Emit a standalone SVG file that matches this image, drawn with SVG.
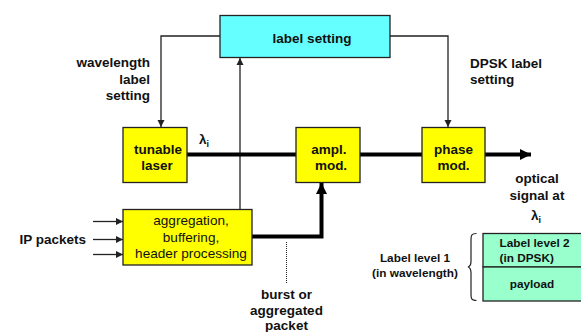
<svg xmlns="http://www.w3.org/2000/svg" width="581" height="332" viewBox="0 0 581 332">
<defs>
<style>
.box{stroke:#222;stroke-width:1.3}
.y{fill:#FFFF00}
.c{fill:#66FFFF}
.g{fill:#99FFCC}
.t{font-family:"Liberation Sans",Arial,sans-serif;font-size:13.5px;font-weight:bold;fill:#111}
.n{font-family:"Liberation Sans",Arial,sans-serif;font-size:13.6px;fill:#111}
.s{font-family:"Liberation Sans",Arial,sans-serif;font-size:11.8px;font-weight:bold;fill:#111}
.thin{fill:none;stroke:#222;stroke-width:1.3}
.thick{fill:none;stroke:#000;stroke-width:4}
</style>
<marker id="ah" markerWidth="8" markerHeight="8" refX="7" refY="4" orient="auto" markerUnits="userSpaceOnUse">
<path d="M0,0.5 L7,4 L0,7.5 Z" fill="#222"/>
</marker>
<marker id="ahb" markerWidth="12" markerHeight="12" refX="11" refY="6" orient="auto" markerUnits="userSpaceOnUse">
<path d="M0,0.5 L11,6 L0,11.5 Z" fill="#000"/>
</marker>
</defs>
<rect width="581" height="332" fill="#fff"/>

<g id="connectors">
<path class="thin" d="M220,36 H161 V127" marker-end="url(#ah)"/>
<path class="thin" d="M390,36 H448 V127" marker-end="url(#ah)"/>
<path class="thin" d="M240,209 V58" marker-end="url(#ah)"/>
<path class="thin" d="M93,221.5 H123" marker-end="url(#ah)"/>
<path class="thin" d="M93,239.5 H123" marker-end="url(#ah)"/>
<path class="thin" d="M93,254.5 H123" marker-end="url(#ah)"/>
<path class="thick" d="M187,154.5 H296"/>
<path class="thick" d="M360,154.5 H422"/>
<path class="thick" d="M485,154.5 H531" marker-end="url(#ahb)"/>
<path class="thick" d="M252,236.5 H321.5 V183" marker-end="url(#ahb)"/>
<path d="M286.5,242 V284" fill="none" stroke="#222" stroke-width="1" stroke-dasharray="1,1"/>
<text class="t" x="199" y="144">λ<tspan font-size="9" dy="3">i</tspan></text>
</g>

<g id="label-setting">
<rect class="box c" x="220" y="15.5" width="170" height="42"/>
<text class="t" x="312" y="42.5" text-anchor="middle">label setting</text>
</g>

<g id="wavelength-label-setting">
<text class="t" text-anchor="end"><tspan x="150" y="67">wavelength</tspan><tspan x="150" y="83.5">label</tspan><tspan x="150" y="100">setting</tspan></text>
</g>

<g id="dpsk-label-setting">
<text class="t"><tspan x="470" y="67.5">DPSK label</tspan><tspan x="470" y="83.5">setting</tspan></text>
</g>

<g id="tunable-laser">
<rect class="box y" x="123" y="127.5" width="64" height="55"/>
<text class="t" text-anchor="middle"><tspan x="158" y="153.5">tunable</tspan><tspan x="157" y="170">laser</tspan></text>
</g>

<g id="ampl-mod">
<rect class="box y" x="296" y="127.5" width="64" height="55"/>
<text class="t" text-anchor="middle"><tspan x="329" y="153.5">ampl.</tspan><tspan x="331" y="170">mod.</tspan></text>
</g>

<g id="phase-mod">
<rect class="box y" x="422" y="127.5" width="63" height="55"/>
<text class="t" text-anchor="middle"><tspan x="453.5" y="153.5">phase</tspan><tspan x="453.5" y="170">mod.</tspan></text>
</g>

<g id="optical-signal">
<text class="t" text-anchor="middle"><tspan x="537" y="183">optical</tspan><tspan x="537" y="200">signal at</tspan></text>
<text class="t" x="531" y="220">λ<tspan font-size="9" dy="3">i</tspan></text>
</g>

<g id="aggregation">
<rect class="box y" x="123" y="209.5" width="129" height="55.5"/>
<text class="n" text-anchor="middle"><tspan x="191" y="225">aggregation,</tspan><tspan x="191" y="242">buffering,</tspan><tspan x="191" y="258">header processing</tspan></text>
</g>

<g id="ip-packets">
<text class="t" x="86" y="243.5" text-anchor="end">IP packets</text>
</g>

<g id="burst">
<text class="t" text-anchor="middle"><tspan x="286.5" y="298.5">burst or</tspan><tspan x="286.5" y="315">aggregated</tspan><tspan x="286.5" y="330">packet</tspan></text>
</g>

<g id="label-level-1">
<text class="s" text-anchor="middle"><tspan x="415" y="262">Label level 1</tspan><tspan x="415" y="277">(in wavelength)</tspan></text>
<path d="M476.5,233.5 C471,233.5 471,236 471,240 V261 C471,265 470,266.5 468,267 C470,267.5 471,269 471,273 V294 C471,298 471,300.5 476.5,300.5" fill="none" stroke="#222" stroke-width="1.2"/>
</g>

<g id="label-level-2">
<rect class="box g" x="483" y="233.5" width="110" height="33.5"/>
<text class="s" x="499.5" y="247">Label level 2</text>
<text class="s" x="499.5" y="262">(in DPSK)</text>
</g>

<g id="payload">
<rect class="box g" x="483" y="267" width="110" height="34"/>
<text class="s" x="532" y="288" text-anchor="middle">payload</text>
</g>
</svg>
